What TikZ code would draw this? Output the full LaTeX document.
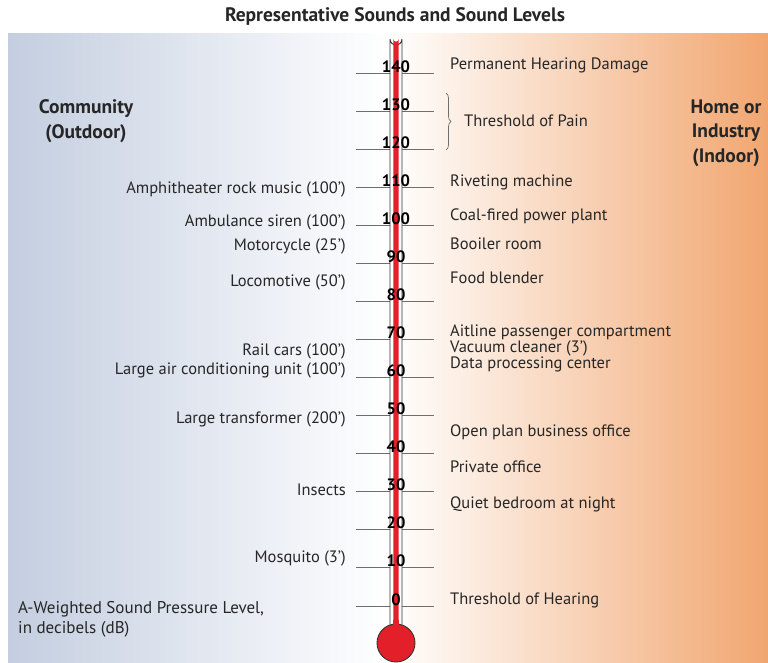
\documentclass[tikz,border=0pt]{standalone}
\usepackage{fontspec}
\setmainfont{PT Sans}
\usetikzlibrary{decorations.pathreplacing}
\usetikzlibrary{positioning}

\definecolor{outdoor}{HTML}{C4CEE0}
\definecolor{indoor}{HTML}{F1A670}
\definecolor{mercury}{HTML}{E3202A}
\definecolor{scalegray}{HTML}{6E6E6E}

\tikzset{
  scaleline/.style={scalegray, line width=0.9pt},
  dbnum/.style={anchor=base, inner sep=0pt, font=\fontsize{16.5}{16}\selectfont\bfseries},
  lefttxt/.style={anchor=base east, inner sep=0pt, font=\fontsize{16.5}{16}\selectfont, text=black!85},
  righttxt/.style={anchor=base west, inner sep=0pt, font=\fontsize{16.5}{16}\selectfont, text=black!85},
  headtxt/.style={align=center, font=\fontsize{19.5}{24.5}\selectfont\bfseries, text=black!85}
}

\begin{document}
\begin{tikzpicture}[x=1pt, y=-1pt]
  \useasboundingbox (0,0) rectangle (768,662);

  % Background shading
  \shade[left color=outdoor, right color=indoor, middle color=white] (8,33) rectangle (768,662);

  % Title
  \node[font=\fontsize{19.5}{20}\selectfont\bfseries, text=black!85] (title) at (395,16) {Representative Sounds and Sound Levels};

  % Scale lines
  \foreach \v in {0,10,...,140} {
    \coordinate (L\v) at (356,{606-3.807*\v});
    \coordinate (R\v) at (434,{606-3.807*\v});
    \draw[scaleline] (L\v) -- (R\v);
  }

  % Thermometer tube and bulb
  \fill[white] (390,640) -- (390,39) arc[start angle=180, end angle=0, radius=6] -- (402,640) -- cycle;
  \draw[black!80, line width=0.9pt] (390,626) -- (390,39) arc[start angle=180, end angle=0, radius=6] -- (402,626);
  \fill[mercury] (393.3,640) -- (393.3,39) arc[start angle=180, end angle=0, radius=2.7] -- (398.7,640) -- cycle;
  \filldraw[fill=mercury, draw=black!80, line width=0.9pt] (396,643) circle[radius=19];
  \fill[mercury] (393.3,620) rectangle (398.7,630);

  % Scale numbers
  \foreach \v in {0,10,...,140} {
    \node[dbnum] (n\v) at (396,{605-3.807*\v}) {\v};
  }

  % Column headings
  \node[headtxt] (outdoor) at (86,121) {Community\\(Outdoor)};
  \node[headtxt] (indoor) at (726,133) {Home or\\Industry\\(Indoor)};

  % Outdoor sounds
  \node[lefttxt] (amph) at (346,193) {Amphitheater rock music (100')};
  \node[lefttxt] (ambu) at (346,226) {Ambulance siren (100')};
  \node[lefttxt] (moto) at (346,250) {Motorcycle (25')};
  \node[lefttxt] (loco) at (346,286) {Locomotive (50')};
  \node[lefttxt] (rail) at (346,355) {Rail cars (100')};
  \node[lefttxt] (aircon) at (346,374) {Large air conditioning unit (100')};
  \node[lefttxt] (trafo) at (346,423) {Large transformer (200')};
  \node[lefttxt] (insect) at (346,495) {Insects};
  \node[lefttxt] (mosq) at (346,562) {Mosquito (3')};

  % Indoor sounds
  \node[righttxt] (damage) at (450,69) {Permanent Hearing Damage};
  \node[righttxt] (pain) at (464,126) {Threshold of Pain};
  \node[righttxt] (rivet) at (450,186) {Riveting machine};
  \node[righttxt] (coal) at (450,220) {Coal-fired power plant};
  \node[righttxt] (boil) at (450,249) {Booiler room};
  \node[righttxt] (blend) at (450,283) {Food blender};
  \node[righttxt] (plane) at (450,336) {Aitline passenger compartment};
  \node[righttxt] (vac) at (450,352) {Vacuum cleaner (3')};
  \node[righttxt] (data) at (450,368) {Data processing center};
  \node[righttxt] (openoff) at (450,436) {Open plan business office};
  \node[righttxt] (privoff) at (450,472) {Private office};
  \node[righttxt] (bed) at (450,508) {Quiet bedroom at night};
  \node[righttxt] (hear) at (450,604) {Threshold of Hearing};

  % Brace for threshold of pain
  \coordinate (braceTop) at (446,93);
  \coordinate (braceBot) at (446,150);
  \draw[scalegray, line width=0.7pt, decorate, decoration={brace, amplitude=5pt}] (braceTop) -- (braceBot);

  % Axis caption
  \node[anchor=base west, align=left, inner sep=0pt, font=\fontsize{17}{20}\selectfont, text=black!85] (axis) at (18,633) {A-Weighted Sound Pressure Level,\\in decibels (dB)};
\end{tikzpicture}
\end{document}
